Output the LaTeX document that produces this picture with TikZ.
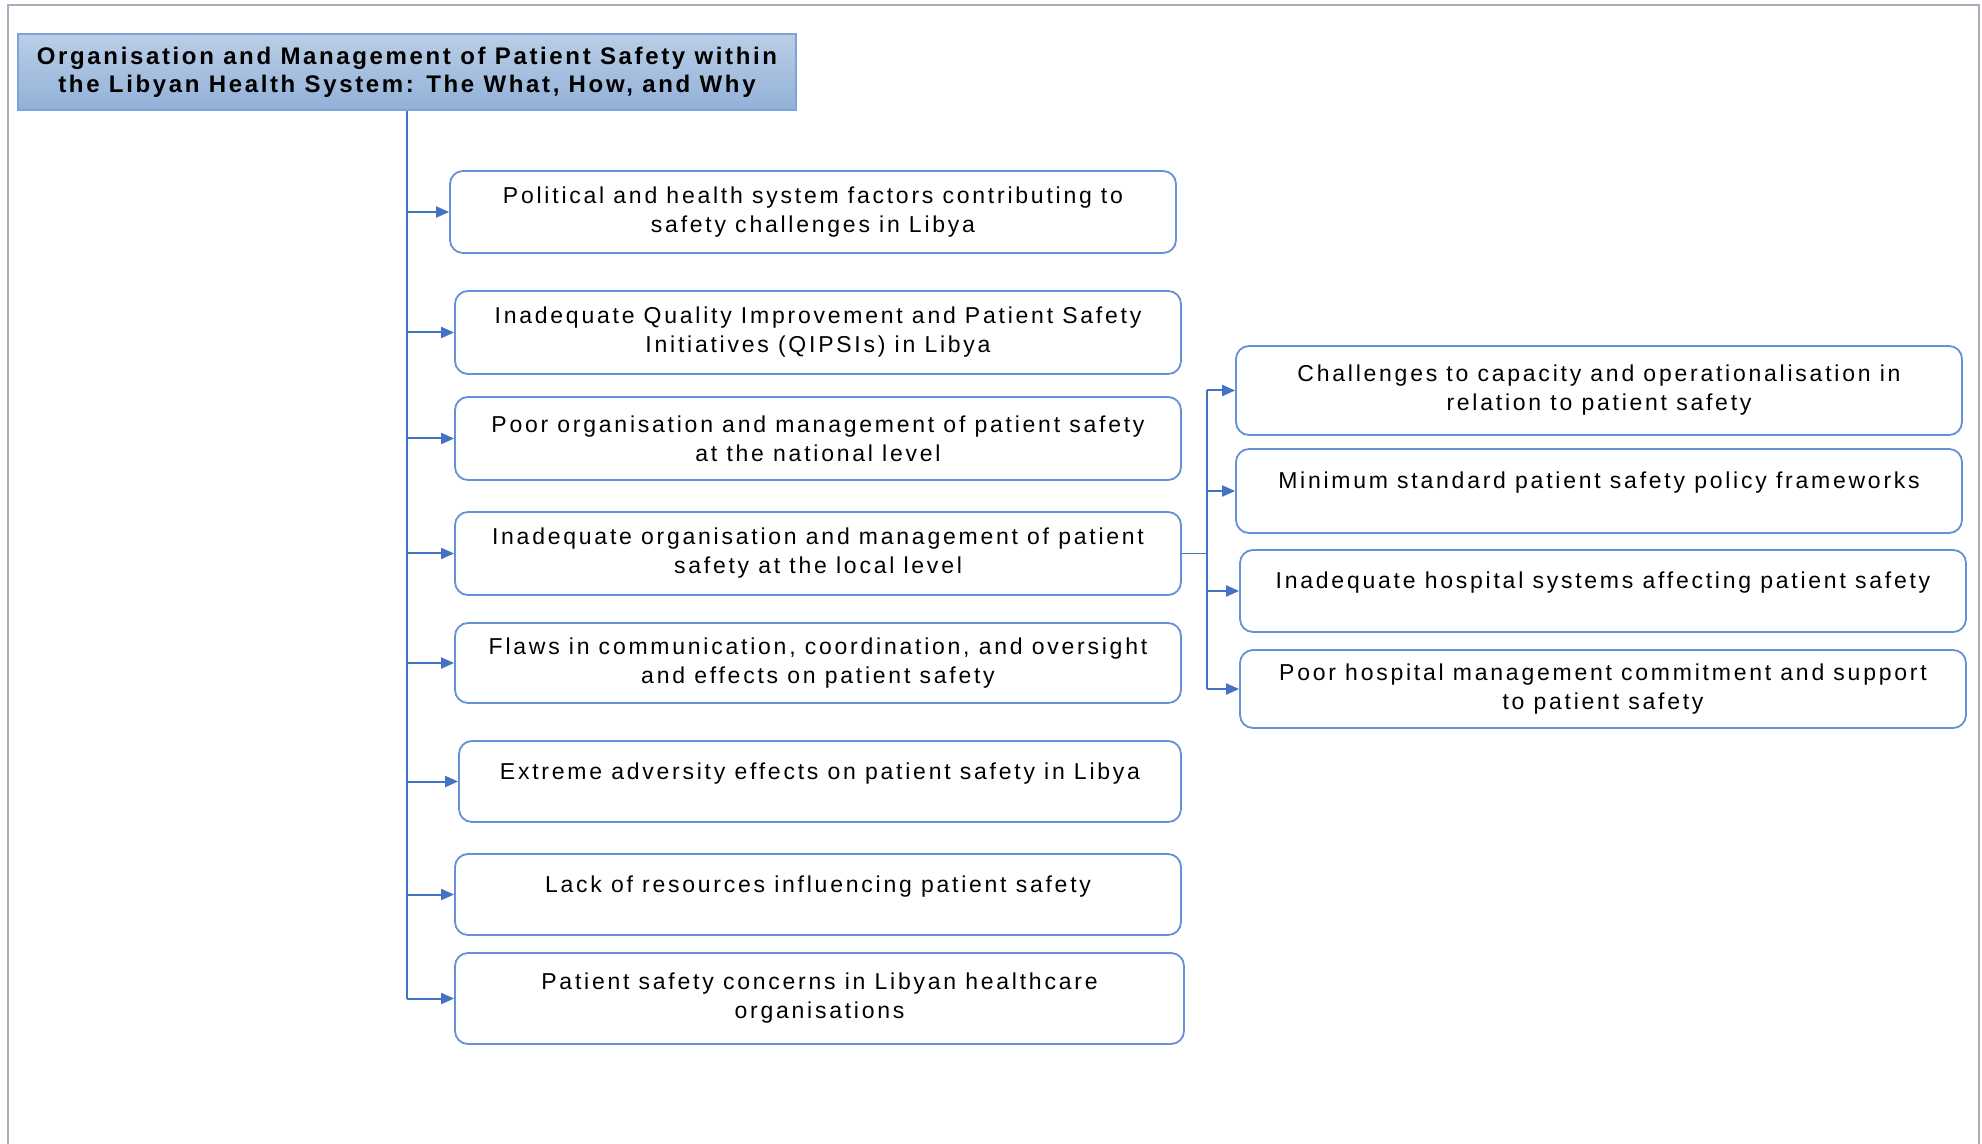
\documentclass[tikz,border=0pt]{standalone}
\usepackage{fontspec}
\setmainfont{Liberation Sans}
\newfontfamily\bodyfont[LetterSpace=12]{Liberation Sans}
\newfontfamily\headfont[LetterSpace=11]{Liberation Sans}
\usetikzlibrary{arrows.meta}
\definecolor{linkblue}{HTML}{4472C4}
\definecolor{boxblue}{HTML}{6690D8}
\definecolor{titletop}{HTML}{BACEE6}
\definecolor{titlebot}{HTML}{92B1D8}
\definecolor{titleedge}{HTML}{7FA3D8}
\definecolor{framegray}{HTML}{A7AEBB}
\tikzset{
  x=0.5pt, y=-0.5pt,
  topic/.style={draw=boxblue, line width=0.9pt, rounded corners=6.5pt, fill=white,
    align=center, font=\bodyfont\fontsize{11.5}{14.5}\selectfont, inner sep=0pt},
  headbox/.style={draw=titleedge, line width=0.6pt, top color=titletop, bottom color=titlebot,
    align=center, font=\headfont\bfseries\fontsize{12}{14}\selectfont, inner sep=0pt,
    minimum width=389pt, minimum height=38pt},
  link/.style={draw=linkblue, line width=1pt},
  arrowlink/.style={link, -{Triangle[length=6.5pt,width=5.5pt]}},
}
% a box at centre (cx,cy) of size w x h, all in pixels
\newcommand{\topicnode}[6]{%
  \node[topic, minimum width=#4*0.5pt, minimum height=#5*0.5pt] (#1) at (#2,#3) {#6};}
% a single line of text set a little above the middle of its box
\newcommand{\upper}[1]{\raisebox{4pt}[\height][\depth]{#1}}
\begin{document}
\begin{tikzpicture}
\useasboundingbox (0,0) rectangle (1982,1144);
% page frame
\draw[framegray, line width=1.2pt] (8,1144) -- (8,5) -- (1979,5) -- (1979,1144);

% heading
\node[headbox] (title) at (407,72) {Organisation and Management of Patient Safety within\\the Libyan Health System: The What, How, and Why};

% main themes
\topicnode{b1}{813}{212}{726}{82}{Political and health system factors contributing to\\safety challenges in Libya}
\topicnode{b2}{818}{332.5}{726}{83}{Inadequate Quality Improvement and Patient Safety\\Initiatives (QIPSIs) in Libya}
\topicnode{b3}{818}{438.5}{726}{83}{Poor organisation and management of patient safety\\at the national level}
\topicnode{b4}{818}{553.5}{726}{83}{Inadequate organisation and management of patient\\safety at the local level}
\topicnode{b5}{818}{663}{726}{80}{Flaws in communication, coordination, and oversight\\and effects on patient safety}
\topicnode{b6}{820}{781.5}{722}{81}{\upper{Extreme adversity effects on patient safety in Libya}}
\topicnode{b7}{818}{894.5}{726}{81}{\upper{Lack of resources influencing patient safety}}
\topicnode{b8}{819.5}{998.5}{729}{91}{Patient safety concerns in Libyan healthcare\\organisations}

% sub-themes of the local level
\topicnode{r1}{1599}{390.5}{726}{89}{Challenges to capacity and operationalisation in\\relation to patient safety}
\topicnode{r2}{1599}{491}{726}{84}{\upper{Minimum standard patient safety policy frameworks}}
\topicnode{r3}{1603}{591}{726}{82}{\upper{Inadequate hospital systems affecting patient safety}}
\topicnode{r4}{1603}{689}{726}{78}{Poor hospital management commitment and support\\to patient safety}

% trunk from the heading
\draw[link] (title.south) -- (title.south |- b8.west);
\foreach \b in {b1,b2,b3,b4,b5,b6,b7,b8}
  \draw[arrowlink] (title.south |- \b.west) -- (\b.west);

% branch from the local level theme
\coordinate (fork) at (1207,553.5);
\draw[link, line width=0.8pt] (b4.east) -- (fork);
\draw[link] (fork |- r1.west) -- (fork |- r4.west);
\foreach \r in {r1,r2,r3,r4}
  \draw[arrowlink] (fork |- \r.west) -- (\r.west);
\end{tikzpicture}
\end{document}
